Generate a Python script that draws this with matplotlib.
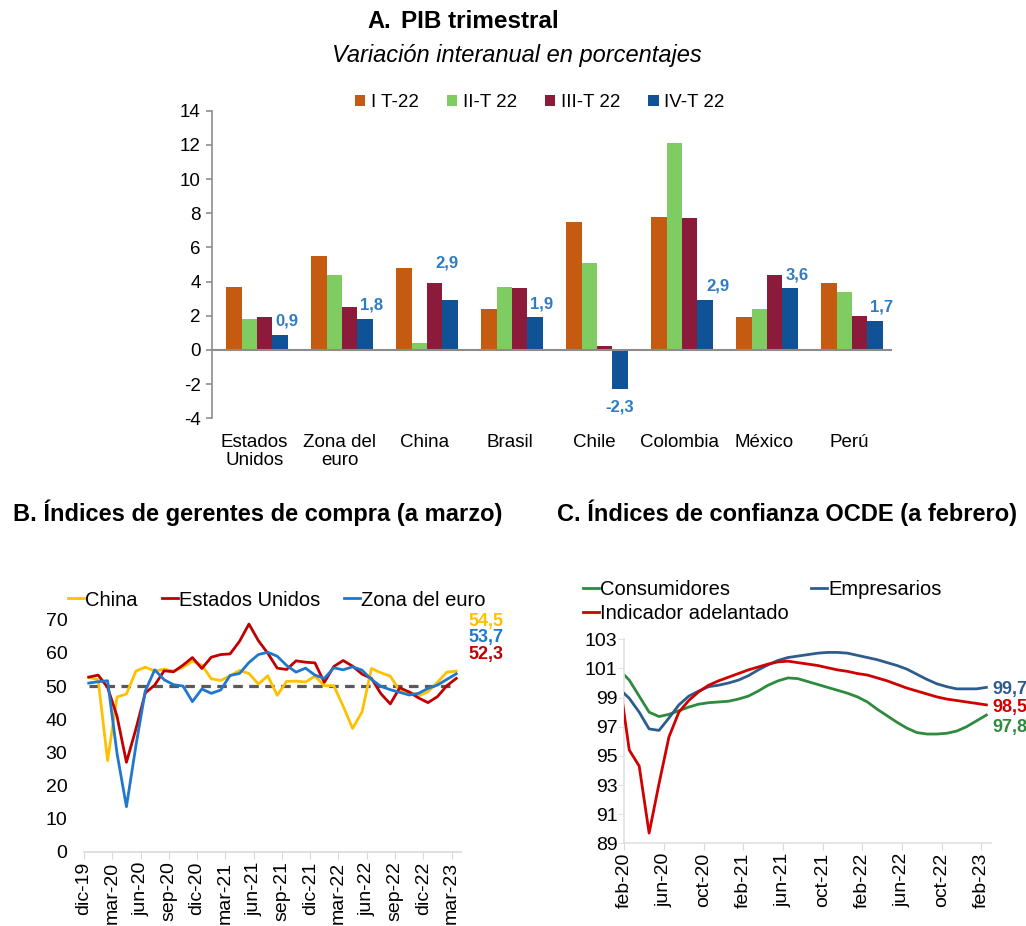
import matplotlib
matplotlib.use("Agg")
import matplotlib.pyplot as plt
import numpy as np
from matplotlib.patches import Patch
from matplotlib.lines import Line2D

plt.rcParams['font.family'] = ['Liberation Sans', 'DejaVu Sans']
plt.rcParams['axes.unicode_minus'] = False

# ---------------- A. PIB trimestral ----------------
paises = ["Estados\nUnidos", "Zona del\neuro", "China", "Brasil", "Chile", "Colombia", "México", "Perú"]
trimestres = ["I T-22", "II-T 22", "III-T 22", "IV-T 22"]
t1_22 = [3.7, 5.5, 4.8, 2.4, 7.5, 7.8, 1.9, 3.9]
t2_22 = [1.8, 4.4, 0.4, 3.7, 5.1, 12.1, 2.4, 3.4]
t3_22 = [1.9, 2.5, 3.9, 3.6, 0.2, 7.7, 4.4, 2.0]
t4_22 = [0.9, 1.8, 2.9, 1.9, -2.3, 2.9, 3.6, 1.7]
etiquetas_t4 = ["0,9", "1,8", "2,9", "1,9", "-2,3", "2,9", "3,6", "1,7"]

# ---------------- B. PMI ----------------
meses_b = ["dic-19", "ene-20", "feb-20", "mar-20", "abr-20", "may-20", "jun-20", "jul-20", "ago-20",
           "sep-20", "oct-20", "nov-20", "dic-20", "ene-21", "feb-21", "mar-21", "abr-21", "may-21",
           "jun-21", "jul-21", "ago-21", "sep-21", "oct-21", "nov-21", "dic-21", "ene-22", "feb-22",
           "mar-22", "abr-22", "may-22", "jun-22", "jul-22", "ago-22", "sep-22", "oct-22", "nov-22",
           "dic-22", "ene-23", "feb-23", "mar-23"]
pmi_china = [52.6, 51.9, 27.5, 46.7, 47.6, 54.5, 55.7, 54.5, 55.1, 54.5, 55.7, 57.5, 56.3, 52.2,
             51.7, 53.1, 54.7, 53.8, 50.6, 53.1, 47.2, 51.4, 51.5, 51.2, 53.0, 50.1, 50.1, 43.9,
             37.2, 42.2, 55.3, 54.0, 53.0, 48.5, 48.3, 47.0, 48.3, 51.1, 54.2, 54.5]
pmi_eeuu = [52.7, 53.3, 49.6, 40.9, 27.0, 37.0, 47.9, 50.3, 54.6, 54.3, 56.3, 58.6, 55.3, 58.7,
            59.5, 59.7, 63.5, 68.7, 63.7, 59.9, 55.4, 55.0, 57.6, 57.2, 57.0, 51.1, 55.9, 57.7,
            56.0, 53.6, 52.3, 47.7, 44.6, 49.5, 48.2, 46.4, 45.0, 46.8, 50.1, 52.3]
pmi_euro = [50.9, 51.3, 51.6, 29.7, 13.6, 31.9, 48.5, 54.9, 51.9, 50.4, 50.0, 45.3, 49.1, 47.8,
            48.8, 53.2, 53.8, 57.1, 59.5, 60.2, 59.0, 56.2, 54.2, 55.4, 53.3, 52.3, 55.5, 54.9,
            55.8, 54.8, 52.0, 49.9, 48.9, 48.1, 47.3, 47.8, 49.3, 50.3, 52.0, 53.7]
ticks_b = ["dic-19", "mar-20", "jun-20", "sep-20", "dic-20", "mar-21", "jun-21", "sep-21",
           "dic-21", "mar-22", "jun-22", "sep-22", "dic-22", "mar-23"]

# ---------------- C. OCDE ----------------
meses_c = ["ene-20", "feb-20", "mar-20", "abr-20", "may-20", "jun-20", "jul-20", "ago-20", "sep-20",
           "oct-20", "nov-20", "dic-20", "ene-21", "feb-21", "mar-21", "abr-21", "may-21", "jun-21",
           "jul-21", "ago-21", "sep-21", "oct-21", "nov-21", "dic-21", "ene-22", "feb-22", "mar-22",
           "abr-22", "may-22", "jun-22", "jul-22", "ago-22", "sep-22", "oct-22", "nov-22", "dic-22",
           "ene-23", "feb-23"]
consumidores = [100.9, 100.2, 99.1, 98.0, 97.7, 97.85, 98.1, 98.35, 98.55, 98.65, 98.7, 98.75, 98.9,
                99.1, 99.45, 99.85, 100.15, 100.35, 100.3, 100.1, 99.9, 99.7, 99.5, 99.3, 99.05, 98.7,
                98.2, 97.75, 97.3, 96.9, 96.6, 96.5, 96.5, 96.55, 96.7, 97.0, 97.4, 97.8]
empresarios = [99.6, 98.95, 98.0, 96.85, 96.75, 97.6, 98.5, 99.1, 99.45, 99.75, 99.85, 100.0, 100.2,
               100.5, 100.9, 101.25, 101.55, 101.75, 101.85, 101.95, 102.05, 102.1, 102.1, 102.05,
               101.9, 101.75, 101.6, 101.4, 101.2, 100.95, 100.6, 100.25, 99.95, 99.75, 99.6, 99.6,
               99.6, 99.7]
adelantado = [100.2, 95.4, 94.3, 89.7, 93.1, 96.3, 98.0, 98.8, 99.4, 99.85, 100.15, 100.4, 100.65,
              100.9, 101.1, 101.3, 101.45, 101.5, 101.4, 101.3, 101.2, 101.05, 100.9, 100.8, 100.65,
              100.55, 100.35, 100.15, 99.9, 99.65, 99.45, 99.25, 99.05, 98.9, 98.8, 98.7, 98.6, 98.5]
ticks_c = ["feb-20", "jun-20", "oct-20", "feb-21", "jun-21", "oct-21", "feb-22", "jun-22",
           "oct-22", "feb-23"]

fig = plt.figure(figsize=(10.26, 9.26), dpi=100)

# ====================== Panel A ======================
fig.text(0.358, 0.977, "A.", fontsize=17, fontweight="bold", ha="left", va="center")
fig.text(0.391, 0.977, "PIB trimestral", fontsize=17.5, fontweight="bold", ha="left", va="center")
fig.text(0.5035, 0.940, "Variación interanual en porcentajes", fontsize=17, style="italic",
         ha="center", va="center")

axA = fig.add_axes([0.2066, 0.5483, 0.6628, 0.3322])
colores_a = ["#C55A11", "#7FCC62", "#8C1B3B", "#0F5296"]
series_a = [t1_22, t2_22, t3_22, t4_22]
x = np.arange(len(paises))
w = 0.18
for k, (serie, col) in enumerate(zip(series_a, colores_a)):
    axA.bar(x + (k - 1.5) * w + 0.03, serie, width=w, color=col, edgecolor="none", zorder=2)

# etiquetas del IV-T 22
offsets = [(5, 10), (5, 10), (-2, 27), (5, 10), (0, -13), (9, 10), (5, 10), (5, 10)]
for i, (v, lab) in enumerate(zip(t4_22, etiquetas_t4)):
    dx, dy = offsets[i]
    axA.annotate(lab, (x[i] + 1.5 * w + 0.03, v), xytext=(dx, dy), textcoords="offset points",
                 ha="center", va="center", fontsize=12, fontweight="bold", color="#2F7CC4")

axA.axhline(0, color="#8C8C8C", lw=1.5, zorder=3)
axA.set_xlim(-0.5, 7.5)
axA.set_ylim(-4, 14)
axA.set_yticks(range(-4, 15, 2))
axA.set_xticks(x)
axA.set_xticklabels(paises, fontsize=13.5, linespacing=1.1)
axA.tick_params(axis="x", length=0, pad=11)
axA.tick_params(axis="y", labelsize=13.5, length=4, color="#8C8C8C", width=1.2, pad=4)
for s in ["top", "right", "bottom"]:
    axA.spines[s].set_visible(False)
axA.spines["left"].set_color("#8C8C8C")
axA.spines["left"].set_linewidth(1.2)

handles_a = [Patch(facecolor=c, edgecolor="none") for c in colores_a]
fig.legend(handles_a, trimestres, loc="center", bbox_to_anchor=(0.526, 0.889), ncol=4,
           frameon=False, fontsize=13.5, handlelength=0.55, handleheight=0.55,
           handletextpad=0.3, columnspacing=1.5, borderpad=0, borderaxespad=0)

# ====================== Panel B ======================
fig.text(0.2515, 0.446, "B. Índices de gerentes de compra (a marzo)", fontsize=17,
         fontweight="bold", ha="center", va="center")

axB = fig.add_axes([0.0819, 0.0802, 0.3674, 0.2505])
xb = np.arange(len(meses_b)) + 0.5
axB.hlines(50, xb[0], xb[-1], colors="#595959", linestyles=(0, (3, 2)), lw=2.3, zorder=1)
axB.plot(xb, pmi_china, color="#FFC000", lw=2.0, zorder=2)
axB.plot(xb, pmi_eeuu, color="#C00000", lw=2.0, zorder=3)
axB.plot(xb, pmi_euro, color="#1F78CC", lw=2.0, zorder=4)
axB.set_xlim(0, len(meses_b))
axB.set_ylim(0, 70)
axB.set_yticks(range(0, 71, 10))
axB.set_xticks([meses_b.index(t) for t in ticks_b])
axB.set_xticklabels(ticks_b, rotation=90, fontsize=14)
axB.tick_params(axis="x", length=5, color="#D9D9D9", pad=2)
axB.tick_params(axis="y", length=0, labelsize=14, pad=12)
for s in ["top", "right", "left"]:
    axB.spines[s].set_visible(False)
axB.spines["bottom"].set_color("#D9D9D9")
axB.spines["bottom"].set_linewidth(1.2)

fin_b = [("54,5", pmi_china[-1], "#FFC000", 36), ("53,7", pmi_euro[-1], "#1F78CC", 26),
         ("52,3", pmi_eeuu[-1], "#C00000", 17.5)]
for lab, v, col, dy in fin_b:
    axB.annotate(lab, (xb[-1], v), xytext=(9, dy), textcoords="offset points", color=col,
                 fontsize=13, fontweight="bold", va="center", ha="left", annotation_clip=False)

hb = [Line2D([], [], color=c, lw=2.0) for c in ["#FFC000", "#C00000", "#1F78CC"]]
fig.legend(hb, ["China", "Estados Unidos", "Zona del euro"], loc="center left",
           bbox_to_anchor=(0.066, 0.352), ncol=3, frameon=False, fontsize=14.5,
           handlelength=0.8, handletextpad=0.05, columnspacing=1.2, borderpad=0, borderaxespad=0)

# ====================== Panel C ======================
fig.text(0.767, 0.446, "C. Índices de confianza OCDE (a febrero)", fontsize=17,
         fontweight="bold", ha="center", va="center")

axC = fig.add_axes([0.6085, 0.0893, 0.3577, 0.2203])
xc = np.arange(len(meses_c)) - 0.5
axC.plot(xc, consumidores, color="#2E8B3E", lw=2.0, zorder=2)
axC.plot(xc, empresarios, color="#2E5C8C", lw=2.0, zorder=3)
axC.plot(xc, adelantado, color="#D00000", lw=2.0, zorder=4)
axC.set_xlim(0, len(meses_c) - 1)
axC.set_ylim(89, 103)
axC.set_yticks(range(89, 104, 2))
axC.set_xticks([meses_c.index(t) - 1 for t in ticks_c])
axC.set_xticklabels(ticks_c, rotation=90, fontsize=14)
axC.tick_params(axis="x", length=5, color="#D9D9D9", pad=2)
axC.tick_params(axis="y", length=4, color="#E3E3E3", labelsize=14, pad=1)
for s in ["top", "right"]:
    axC.spines[s].set_visible(False)
for s in ["bottom", "left"]:
    axC.spines[s].set_color("#E0E0E0")
    axC.spines[s].set_linewidth(1.2)

fin_c = [("99,7", empresarios[-1], "#2E5C8C", -1.5), ("98,5", adelantado[-1], "#D00000", -2),
         ("97,8", consumidores[-1], "#2E8B3E", -9)]
for lab, v, col, dy in fin_c:
    axC.annotate(lab, (xc[-1], v), xytext=(4, dy), textcoords="offset points", color=col,
                 fontsize=13, fontweight="bold", va="center", ha="left", annotation_clip=False)

# orden para que la fila 1 sea Consumidores / Empresarios
hc = [Line2D([], [], color=c, lw=2.0) for c in ["#2E8B3E", "#D00000", "#2E5C8C"]]
fig.legend(hc, ["Consumidores", "Indicador adelantado", "Empresarios"], loc="upper left",
           bbox_to_anchor=(0.568, 0.374), ncol=2, frameon=False, fontsize=14.5,
           handlelength=0.8, handletextpad=0.05, columnspacing=1.1, labelspacing=0.28,
           borderpad=0, borderaxespad=0)

fig.savefig("out.png", dpi=100)
